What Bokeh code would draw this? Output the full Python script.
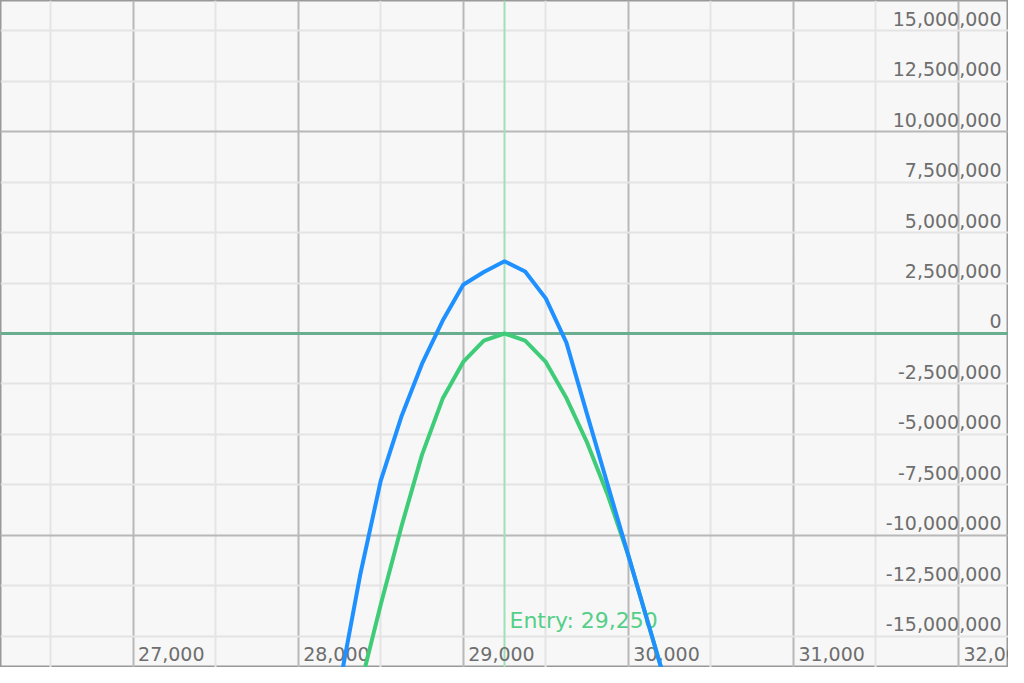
from bokeh.plotting import figure
from bokeh.models import Span, FixedTicker, Range1d, ColumnDataSource
from bokeh.core.properties import value
from bokeh.embed import file_html
from bokeh.resources import INLINE

# ---- data ----
prices = [28250, 28375, 28500, 28625, 28750, 28875, 29000, 29125, 29250,
          29375, 29500, 29625, 29750, 29875, 30000, 30125, 30250]
blue_m = [-17.5, -12.0, -7.31, -4.13, -1.51, 0.63, 2.42, 3.05, 3.58,
          3.07, 1.74, -0.45, -4.0, -7.5, -11.0, -14.5, -18.0]
green_m = [-21.9, -17.56, -13.45, -9.59, -6.02, -3.24, -1.41, -0.35, 0.0,
           -0.35, -1.41, -3.2, -5.4, -8.0, -11.0, -14.5, -18.0]
entry_price = 29250
entry_label = "Entry: 29,250"

x_major = [26000, 27000, 28000, 29000, 30000, 31000, 32000]
x_minor = [26500, 27500, 28500, 29500, 30500, 31500]
x_labels_at = [27000, 28000, 29000, 30000, 31000, 32000]
y_major = [-10000000, 0, 10000000]
y_minor = [-15000000, -12500000, -7500000, -5000000, -2500000,
           2500000, 5000000, 7500000, 12500000, 15000000]
y_labels_at = [15000000, 12500000, 10000000, 7500000, 5000000, 2500000, 0,
               -2500000, -5000000, -7500000, -10000000, -12500000, -15000000]

blue = [v * 1e6 for v in blue_m]
green = [v * 1e6 for v in green_m]

X0, X1 = 26197, 32303
Y0, Y1 = -16.56e6, 16.51e6

p = figure(width=1008, height=667, output_backend="svg", toolbar_location=None,
           x_range=Range1d(X0, X1), y_range=Range1d(Y0, Y1),
           min_border=0, background_fill_color="#f7f7f7",
           border_fill_color="#f7f7f7")
p.xaxis.visible = False
p.yaxis.visible = False
p.outline_line_color = "#999999"
p.outline_line_width = 2

p.xgrid.ticker = FixedTicker(ticks=x_major, minor_ticks=x_minor)
p.ygrid.ticker = FixedTicker(ticks=y_major, minor_ticks=y_minor)
for g in (p.xgrid, p.ygrid):
    g.grid_line_color = "#b8b8b8"
    g.grid_line_width = 2
    g.minor_grid_line_color = "#e4e4e4"
    g.minor_grid_line_width = 2

zero = Span(location=0, dimension="width", line_color="#6aae92",
            line_width=3, level="underlay")
entry = Span(location=entry_price, dimension="height", line_color="#9fe0b9",
             line_width=2, level="underlay")
p.add_layout(zero)
p.add_layout(entry)

font = value("DejaVu Sans")
p.text(x=[X1] * len(y_labels_at), y=y_labels_at,
       text=[f"{v:,}" for v in y_labels_at],
       text_align="right", text_baseline="alphabetic",
       x_offset=-7, y_offset=-12, text_font=font,
       text_font_size="19px", text_color="#6e6e6e")
p.text(x=x_labels_at, y=[Y0] * len(x_labels_at),
       text=[f"{v:,}" for v in x_labels_at],
       text_align="left", text_baseline="alphabetic",
       x_offset=5, y_offset=-14, text_font=font,
       text_font_size="19px", text_color="#6e6e6e")
p.text(x=[entry_price], y=[-15000000], text=[entry_label],
       text_align="left", text_baseline="alphabetic",
       x_offset=5, y_offset=-16, text_font=font,
       text_font_size="22px", text_color="#55cf88")

src = ColumnDataSource(dict(x=prices, blue=blue, green=green))
p.line("x", "green", source=src, line_color="#3fcc78", line_width=4)
p.line("x", "blue", source=src, line_color="#1e90ff", line_width=4)

open("out.html", "w").write(file_html(p, INLINE))
